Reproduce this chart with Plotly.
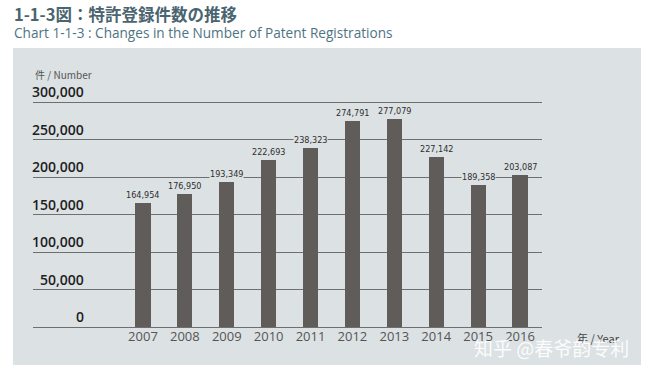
import plotly.graph_objects as go

years = ["2007", "2008", "2009", "2010", "2011", "2012", "2013", "2014", "2015", "2016"]
registrations = [164954, 176950, 193349, 222693, 238323, 274791, 277079, 227142, 189358, 203087]
y_ticks = [0, 50000, 100000, 150000, 200000, 250000, 300000]
y_tick_labels = ["0", "50,000", "100,000", "150,000", "200,000", "250,000", "300,000"]

xs = list(range(len(years)))

L, R, T, B = 33, 542, 99, 327
W, H = 650, 373
pw, ph = R - L, B - T
YMAX = 304000
PANEL = "#dce1e3"

def px(xp):
    return (xp - L) / pw

def py(yp):
    return (B - yp) / ph

fig = go.Figure()
fig.add_trace(go.Bar(
    x=xs, y=registrations, width=0.36,
    marker=dict(color="#5f5c5a", line=dict(width=0)),
    hoverinfo="skip",
))

annotations = []
for xi, v in zip(xs, registrations):
    annotations.append(dict(
        x=xi, y=v, xref="x", yref="y", text=f"{v:,}", showarrow=False,
        xanchor="center", yanchor="bottom", yshift=2, bgcolor=PANEL, borderpad=0,
        font=dict(family="DejaVu Sans Condensed, Liberation Sans Narrow, sans-serif", size=9, color="#2e2e2e"),
    ))
for v, t in zip(y_ticks, y_tick_labels):
    annotations.append(dict(
        x=px(86), xref="paper", y=v, yref="y", text=t, showarrow=False,
        xanchor="right", yanchor="bottom", yshift=-1,
        font=dict(family="Open Sans, sans-serif", size=14, color="#1e1e1e", weight=600),
    ))
annotations += [
    dict(x=px(33), y=py(74), xref="paper", yref="paper", text="件 / Number", showarrow=False,
         xanchor="left", yanchor="middle", font=dict(family="Noto Sans CJK JP, sans-serif", size=10, color="#555")),
    dict(x=px(575), y=py(338), xref="paper", yref="paper", text="年 / Year", showarrow=False,
         xanchor="left", yanchor="middle", font=dict(family="Noto Sans CJK JP, sans-serif", size=11, color="#444")),
    dict(x=px(12), y=py(14), xref="paper", yref="paper", text="<b>1-1-3図：特許登録件数の推移</b>", showarrow=False,
         xanchor="left", yanchor="middle", font=dict(family="Noto Sans CJK JP, sans-serif", size=16.5, color="#4a6470")),
    dict(x=px(12), y=py(32), xref="paper", yref="paper", text="Chart 1-1-3 : Changes in the Number of Patent Registrations", showarrow=False,
         xanchor="left", yanchor="middle", font=dict(family="Open Sans, sans-serif", size=13.6, color="#4e7383")),
    dict(x=px(551), y=py(347), xref="paper", yref="paper", text="知乎 @春爷韵专利", showarrow=False,
         xanchor="center", yanchor="middle", opacity=0.9,
         font=dict(family="Noto Sans CJK SC, sans-serif", size=19, color="#ffffff")),
]

fig.update_layout(
    width=W, height=H,
    margin=dict(l=L, r=W - R, t=T, b=H - B, pad=0),
    paper_bgcolor="#ffffff",
    plot_bgcolor="rgba(0,0,0,0)",
    showlegend=False,
    bargap=0,
    shapes=[dict(type="rect", xref="paper", yref="paper", layer="below",
                 x0=px(13), x1=px(641), y0=py(365), y1=py(48),
                 fillcolor=PANEL, line=dict(width=0))],
    annotations=annotations,
    xaxis=dict(range=[-2.625, 9.525], tickvals=xs, ticktext=years, showgrid=False, zeroline=False,
               showline=False, ticks="", tickfont=dict(family="Open Sans, sans-serif", size=13, color="#555"),
               fixedrange=True),
    yaxis=dict(range=[0, YMAX], tickvals=y_ticks, showticklabels=False, showgrid=True,
               gridcolor="#6f6f6f", gridwidth=1, zeroline=True, zerolinecolor="#6f6f6f", zerolinewidth=1,
               showline=False, ticks="", fixedrange=True),
)

fig.write_html("out.html", config={"displayModeBar": False},
               post_script="document.body.style.margin='0';")
